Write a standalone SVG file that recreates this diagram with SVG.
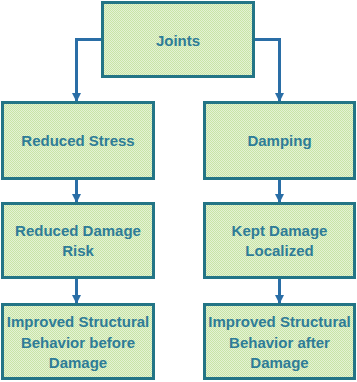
<svg xmlns="http://www.w3.org/2000/svg" width="357" height="382" viewBox="0 0 357 382">
<defs>
<pattern id="chk" width="2" height="2" patternUnits="userSpaceOnUse">
<rect width="2" height="2" fill="#e4f2d4"/>
<rect width="1" height="1" fill="#c8e4a6"/>
<rect x="1" y="1" width="1" height="1" fill="#c8e4a6"/>
</pattern>
<marker id="ah" markerWidth="10" markerHeight="9" refX="9" refY="5" orient="auto" markerUnits="userSpaceOnUse" viewBox="0 0 10 10">
<path d="M0,0 L10,5 L0,10 Z" fill="#2a6ea6"/>
</marker>
<style>
.box{fill:url(#chk);stroke:#237586;stroke-width:3}
.t{font-family:"Liberation Sans",Arial,sans-serif;font-weight:bold;font-size:15px;fill:#2e7c97;text-anchor:middle}
.c{fill:none;stroke:#2a6ea6;stroke-width:3;marker-end:url(#ah)}
</style>
</defs>
<rect width="357" height="382" fill="#ffffff"/>
<g id="connectors">
<path class="c" d="M102,39.5 H76.5 V101"/>
<path class="c" d="M254,39.5 H279.5 V101"/>
<path class="c" d="M76.5,179 V202"/>
<path class="c" d="M279.5,179 V202"/>
<path class="c" d="M76.5,278 V303"/>
<path class="c" d="M279.5,278 V303"/>
</g>
<g id="joints"><rect class="box" x="102.5" y="2.5" width="151" height="74"/><text class="t" x="178" y="45.5">Joints</text></g>
<g id="reduced-stress"><rect class="box" x="2.5" y="102.5" width="151" height="76"/><text class="t" x="78" y="146">Reduced Stress</text></g>
<g id="damping"><rect class="box" x="204.5" y="102.5" width="150" height="76"/><text class="t" x="279.5" y="146">Damping</text></g>
<g id="reduced-damage-risk"><rect class="box" x="2.5" y="203.5" width="151" height="74"/><text class="t" x="78" y="236">Reduced Damage</text><text class="t" x="78" y="256">Risk</text></g>
<g id="kept-damage-localized"><rect class="box" x="204.5" y="203.5" width="150" height="74"/><text class="t" x="279.5" y="236">Kept Damage</text><text class="t" x="279.5" y="256">Localized</text></g>
<g id="improved-before"><rect class="box" x="2.5" y="304.5" width="151" height="74"/><text class="t" x="78" y="327">Improved Structural</text><text class="t" x="78" y="347.5">Behavior before</text><text class="t" x="78" y="368">Damage</text></g>
<g id="improved-after"><rect class="box" x="204.5" y="304.5" width="150" height="74"/><text class="t" x="279.5" y="327">Improved Structural</text><text class="t" x="279.5" y="347.5">Behavior after</text><text class="t" x="279.5" y="368">Damage</text></g>
</svg>
